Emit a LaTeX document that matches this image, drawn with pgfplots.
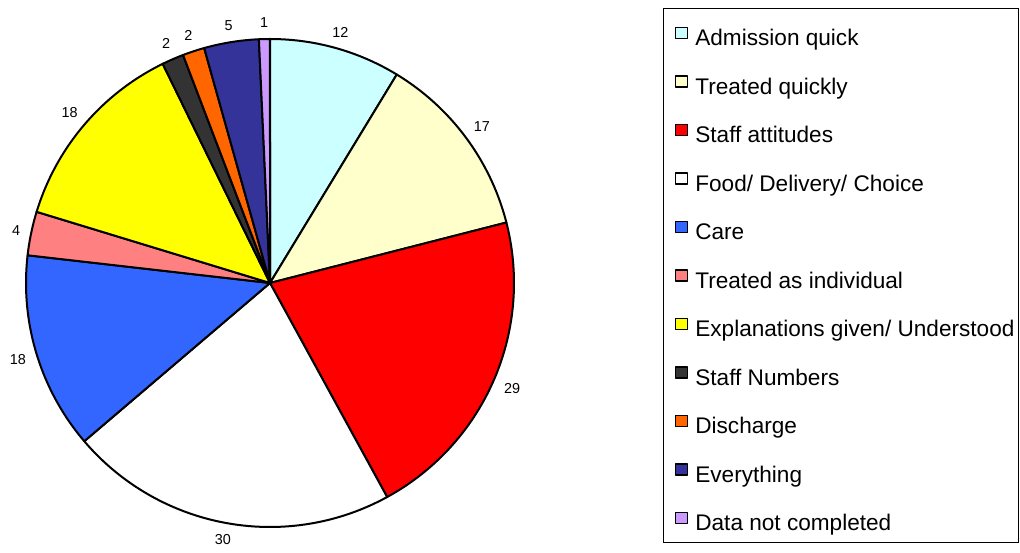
\documentclass[border=0pt]{standalone}
\usepackage{fontspec}
\setmainfont{Liberation Sans}
\usepackage{pgfplots}
\pgfplotsset{compat=1.18}
\definecolor{cAdm}{HTML}{CCFFFF}
\definecolor{cTq}{HTML}{FFFFCC}
\definecolor{cSa}{HTML}{FF0000}
\definecolor{cFood}{HTML}{FFFFFF}
\definecolor{cCare}{HTML}{3366FF}
\definecolor{cInd}{HTML}{FF8080}
\definecolor{cExp}{HTML}{FFFF00}
\definecolor{cNum}{HTML}{333333}
\definecolor{cDis}{HTML}{FF6600}
\definecolor{cEv}{HTML}{333399}
\definecolor{cDnc}{HTML}{CC99FF}
\def\total{138}
\begin{document}
\begin{tikzpicture}
\path[use as bounding box] (0,0) rectangle (1020pt,553pt);
\begin{axis}[
  at={(270pt,270pt)}, anchor=center,
  scale only axis, width=488pt, height=488pt,
  xmin=-1, xmax=1, ymin=-1, ymax=1,
  hide axis, clip=false,
  legend style={
    at={(1.3053,1.0635)}, anchor=north west,
    draw=black, line width=1.5pt, fill=white,
    inner xsep=4pt, inner ysep=0pt,
    font=\fontsize{22.6}{26}\selectfont,
    nodes={inner sep=0pt, text depth={}},
    /tikz/every odd column/.append style={column sep=7pt},
    row sep=0pt,
  },
  legend cell align=left,
  legend image code/.code={
    \path[draw=none, fill=none] (0pt,-24.25pt) rectangle (20pt,24.25pt);
    \draw[#1, draw=black, line width=1.2pt] (8pt,-5.5pt) rectangle (20pt,5.5pt);
  },
]
\pgfmathsetmacro\unitang{360/\total}
\xdef\cum{0}
\foreach \v/\col/\lab in {
  12/cAdm/{Admission quick},
  17/cTq/{Treated quickly},
  29/cSa/{Staff attitudes},
  30/cFood/{Food/ Delivery/ Choice},
  18/cCare/{Care},
  4/cInd/{Treated as individual},
  18/cExp/{Explanations given/ Understood},
  2/cNum/{Staff Numbers},
  2/cDis/{Discharge},
  5/cEv/{Everything},
  1/cDnc/{Data not completed}}{
  \pgfmathsetmacro\a{90-\unitang*\cum}
  \pgfmathsetmacro\b{90-\unitang*(\cum+\v)}
  \pgfmathsetmacro\m{(\a+\b)/2}
  \pgfmathsetmacro\an{\m+180}
  \pgfmathsetmacro\lx{1.045*cos(\m)}
  \pgfmathsetmacro\ly{1.045*sin(\m)}
  \edef\temp{%
    \noexpand\addplot[fill=\col, draw=black, line width=2pt, line join=round, domain=\b:\a, samples=120]
      ({cos(x)},{sin(x)}) -- (axis cs:0,0) -- cycle;
    \noexpand\addlegendentry{\noexpand\rule[-11.75pt]{0pt}{48.5pt}\lab}
    \noexpand\node[anchor=\an, inner sep=0pt, font=\noexpand\fontsize{14.4}{16}\noexpand\selectfont]
      at (axis cs:\lx,\ly) {\v};
  }\temp
  \pgfmathsetmacro\c{\cum+\v}
  \xdef\cum{\c}
}
\end{axis}
\end{tikzpicture}
\end{document}
